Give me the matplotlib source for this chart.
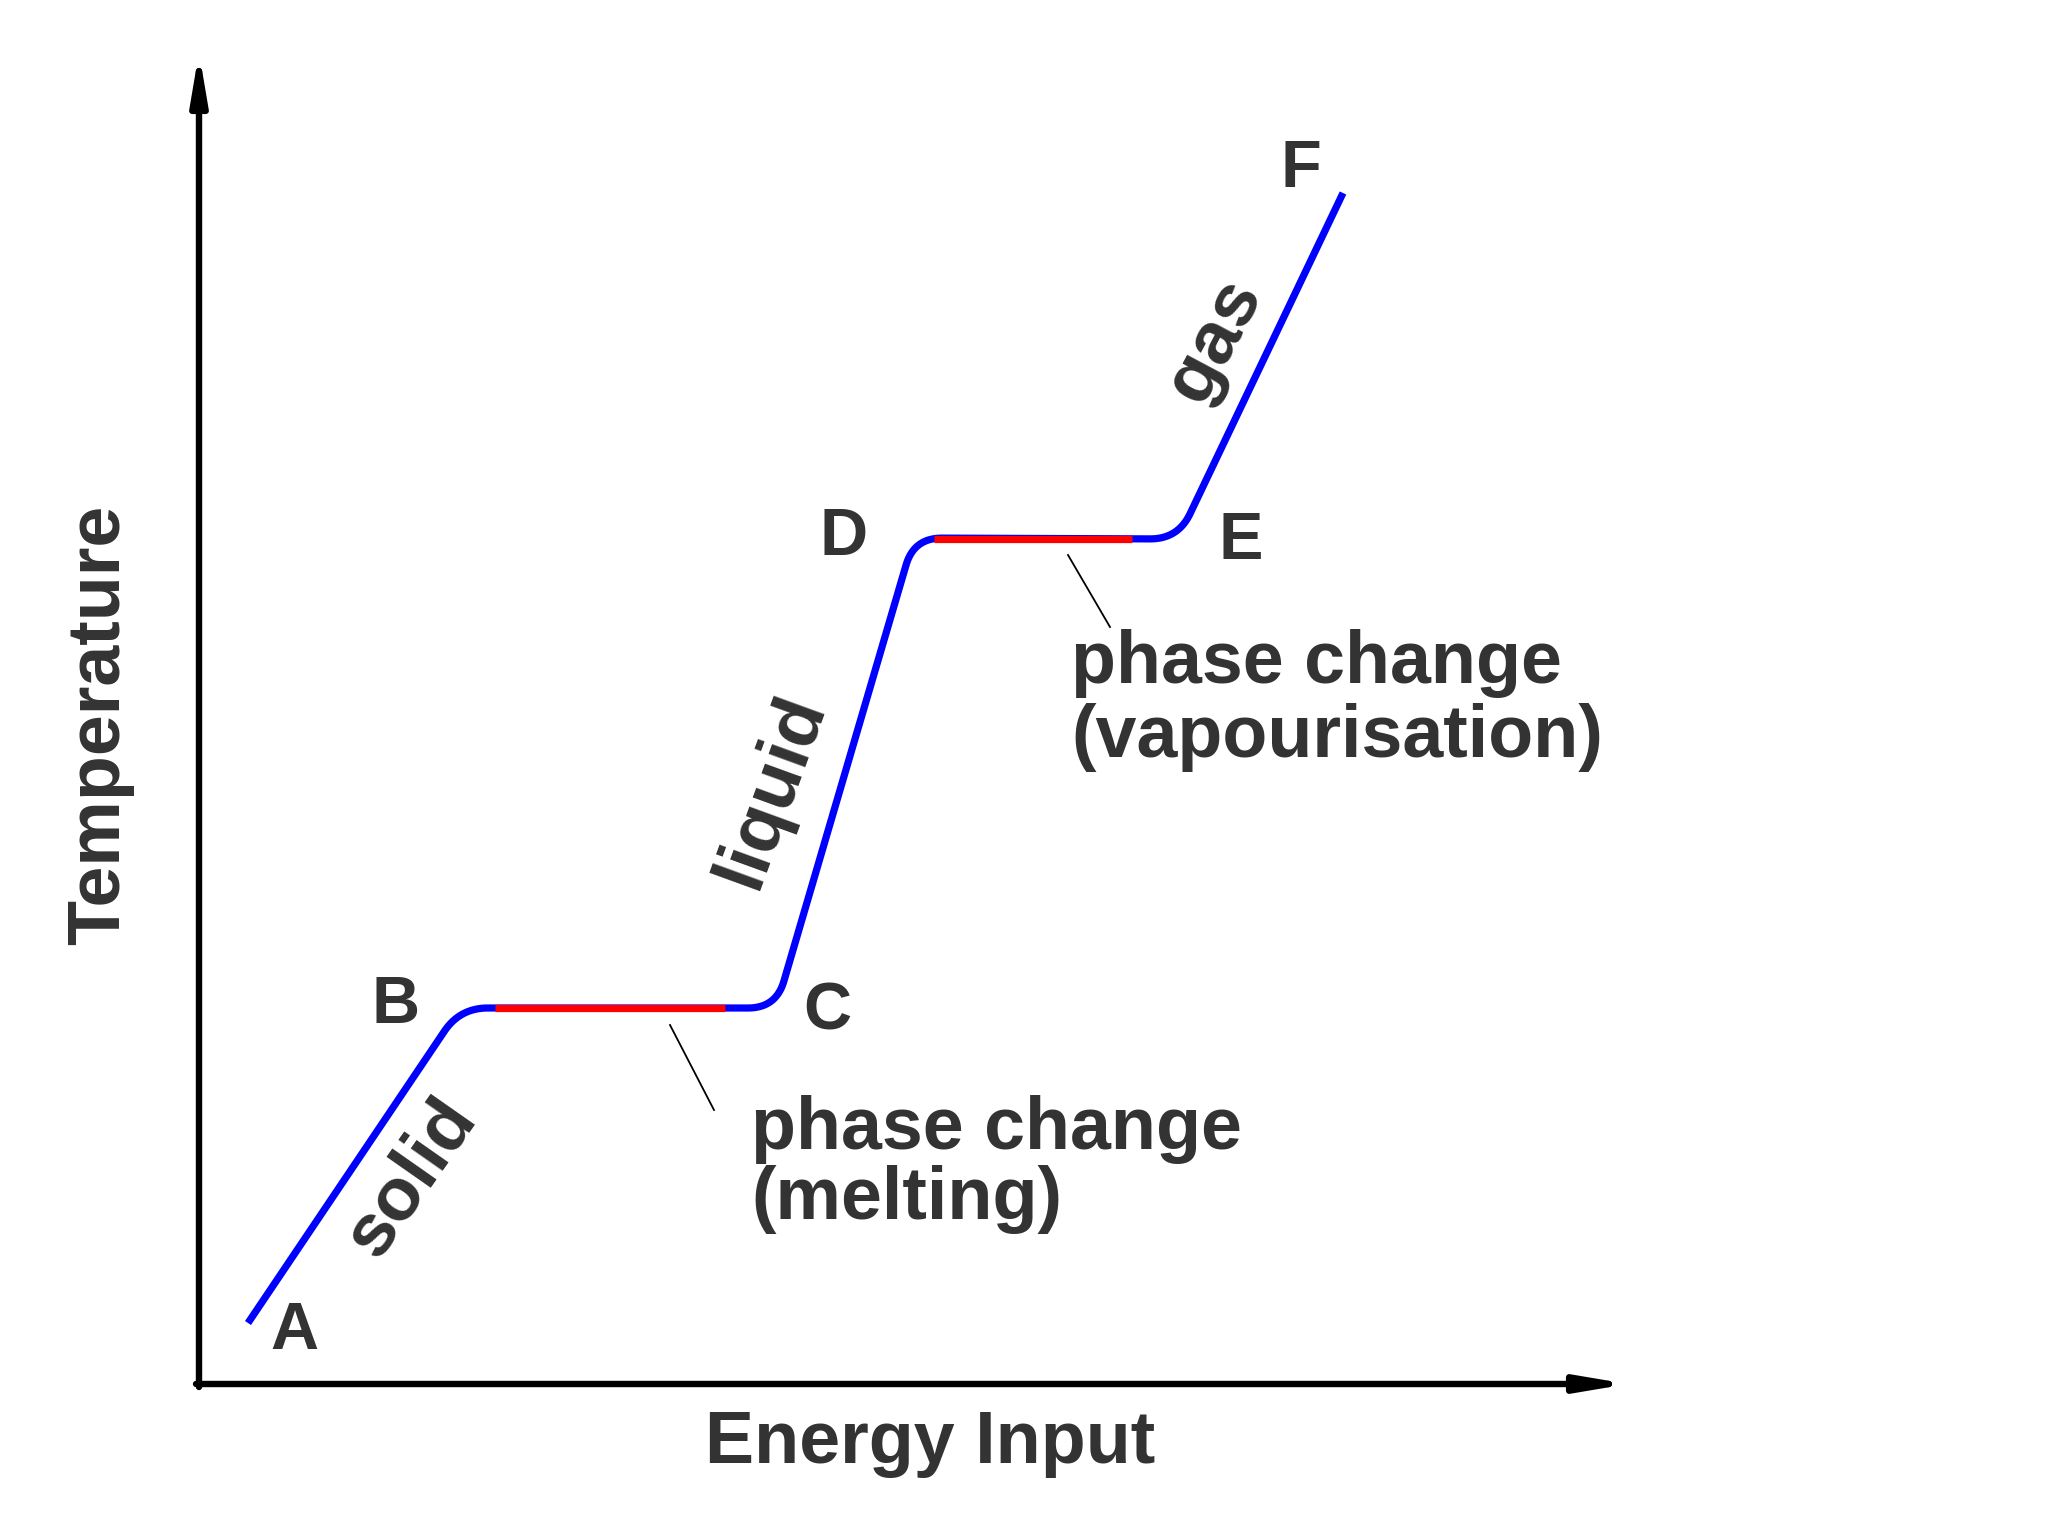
import numpy as np
import matplotlib.pyplot as plt

# heating curve key points: energy input vs temperature (arbitrary units)
points = ["A", "B", "C", "D", "E", "F"]
energy = [49, 261, 577, 715, 979, 1144]
temperature = [61, 376, 376, 846, 845, 1191]

# red (latent heat) part of each plateau
plateau_start = [296, 735]
plateau_end = [526, 933]
plateau_temp = [376, 845]

phases = ["solid", "liquid", "gas"]
phase_changes = ["(melting)", "(vapourisation)"]

x_max, y_max = 1429, 1332

plt.rcParams['font.family'] = ['Liberation Sans', 'DejaVu Sans']
ink = '#333333'


def rounded(xs, ys, r=28, n=24):
    pts = np.column_stack([xs, ys]).astype(float)
    out = [pts[:1]]
    t = np.linspace(0, 1, n)[:, None]
    for i in range(1, len(pts) - 1):
        p0, p1, p2 = pts[i - 1], pts[i], pts[i + 1]
        a = p1 - (p1 - p0) / np.linalg.norm(p1 - p0) * r
        b = p1 + (p2 - p1) / np.linalg.norm(p2 - p1) * r
        out.append((1 - t) ** 2 * a + 2 * (1 - t) * t * p1 + t ** 2 * b)
    out.append(pts[-1:])
    return np.vstack(out)


fig = plt.figure(figsize=(20.48, 15.36), dpi=100)
fig.patch.set_facecolor('white')
ax = fig.add_axes([0, 0, 1, 1])
ax.set_xlim(-199, 2048 - 199)
ax.set_ylim(-(1536 - 1384), 1384)
ax.axis('off')

# axes with arrow heads
arrow = dict(arrowstyle='-|>,head_length=1.3,head_width=0.22', lw=4.6,
             color='black', mutation_scale=22, shrinkA=0, shrinkB=0)
ax.annotate('', xy=(0, y_max), xytext=(0, -3), arrowprops=arrow)
ax.annotate('', xy=(x_max, 0), xytext=(-3, 0), arrowprops=arrow)

# the curve
curve = rounded(energy, temperature)
ax.plot(curve[:, 0], curve[:, 1], color='#0000ff', lw=5.2, solid_capstyle='butt')
for xs, xe, ty in zip(plateau_start, plateau_end, plateau_temp):
    ax.plot([xs, xe], [ty, ty], color='#ff0000', lw=5.2, solid_capstyle='butt')

# point letters
letter_off = [(46, -9), (-64, 2), (51, -5), (-70, 0), (63, -3), (-42, 23)]
for name, x, y, (dx, dy) in zip(points, energy, temperature, letter_off):
    ax.text(x + dx, y + dy, name, fontsize=48, fontweight='bold', color=ink,
            ha='center', va='center')

# phase names along the sloped parts
phase_pos = [(212, 206, 55), (572, 594, 70), (1016, 1044, 62)]
for name, (x, y, rot) in zip(phases, phase_pos):
    ax.text(x, y, name, fontsize=54, fontweight='bold', color=ink,
            ha='center', va='center', rotation=rot, rotation_mode='anchor')

# phase change notes with pointer lines
note_pos = [(552, 254, 185), (872, 721, 646)]
pointer = [((471, 359), (515, 274)), ((869, 829), (911, 757))]
for label, (x, y1, y2), (p, q) in zip(phase_changes, note_pos, pointer):
    ax.text(x, y1, 'phase change', fontsize=53, fontweight='bold', color=ink,
            ha='left', va='center')
    ax.text(x, y2, label, fontsize=53, fontweight='bold', color=ink,
            ha='left', va='center')
    ax.plot([p[0], q[0]], [p[1], q[1]], color='black', lw=1.3)

ax.text(731, -59, 'Energy Input', fontsize=53, fontweight='bold', color=ink,
        ha='center', va='center')
ax.text(-99, 659, 'Temperature', fontsize=53, fontweight='bold', color=ink,
        ha='center', va='center', rotation=90)

fig.savefig('out.png', dpi=100, facecolor='white')
